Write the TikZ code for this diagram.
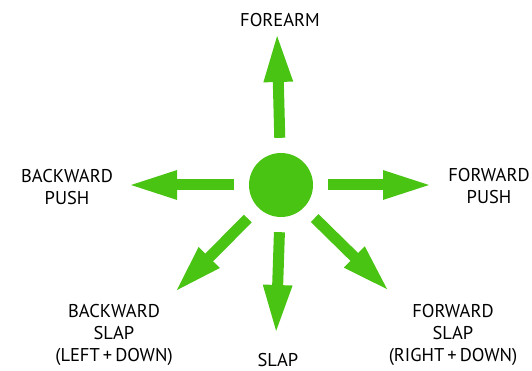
\documentclass[tikz,border=0pt]{standalone}
\usepackage{fontspec}
\setmainfont{PT Sans}
\usetikzlibrary{arrows.meta}
\definecolor{fgreen}{RGB}{74,196,18}
\tikzset{
  garrow/.style={draw=fgreen, line width=11pt,
    -{Triangle[length=50pt,width=26pt]}, fill=fgreen, shorten <=15pt},
  lbl/.style={inner sep=0pt, align=center, font=\fontsize{18.5}{22}\selectfont},
}
\begin{document}
\begin{tikzpicture}[x=1pt,y=-1pt]
\useasboundingbox (0,0) rectangle (532,371);
\node[circle, fill=fgreen, minimum size=64pt, inner sep=0pt] (c) at (281,185) {};
\coordinate (tu) at (277,32);
\coordinate (tr) at (433,185);
\coordinate (tl) at (127,185);
\coordinate (td) at (276,335);
\coordinate (tdl) at (174,293);
\coordinate (tdr) at (390,292);
\draw[garrow] (c) -- (tu);
\draw[garrow] (c) -- (tr);
\draw[garrow] (c) -- (tl);
\draw[garrow] (c) -- (td);
\draw[garrow] (c) -- (tdl);
\draw[garrow] (c) -- (tdr);
\node[lbl] (fa) at (280,20) {FOREARM};
\node[lbl] (bp) at (67,187) {BACKWARD\\PUSH};
\node[lbl] (fp) at (489,186) {FORWARD\\PUSH};
\node[lbl] (bs) at (114,335) {BACKWARD\\SLAP\\(LEFT\,+\,DOWN)};
\node[lbl, anchor=base, text depth=0pt] (sl) at (278,366) {SLAP};
\node[lbl] (fs) at (453,335) {FORWARD\\SLAP\\(RIGHT\,+\,DOWN)};
\end{tikzpicture}
\end{document}
